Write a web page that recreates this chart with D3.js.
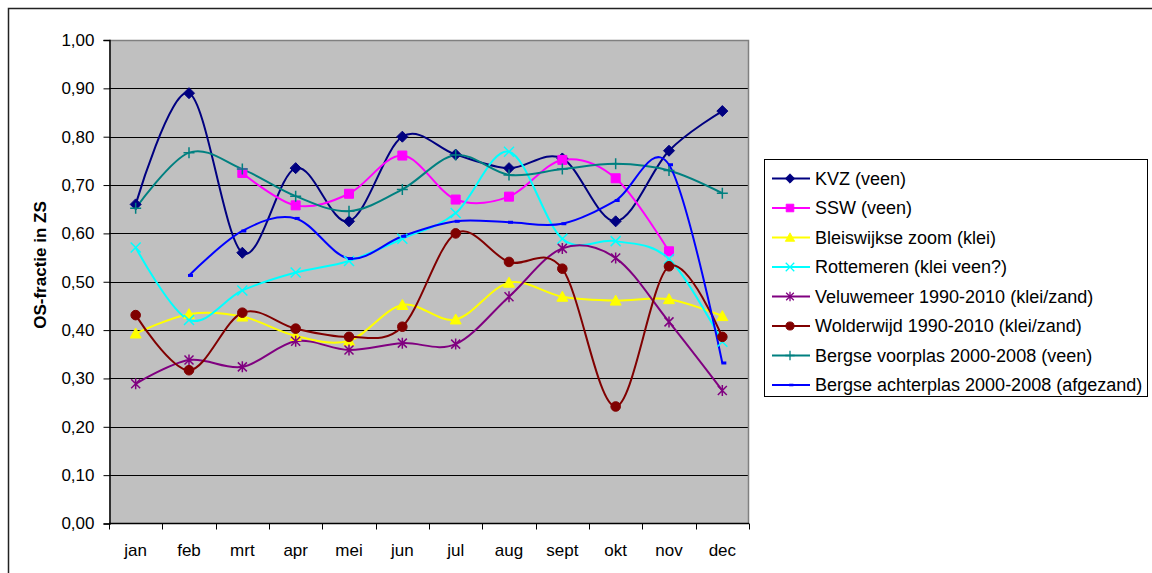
<!DOCTYPE html>
<html>
<head>
<meta charset="utf-8">
<script src="https://cdn.jsdelivr.net/npm/d3@7/dist/d3.min.js"></script>
<style>
  body { margin: 0; background: #fff; }
  svg { display: block; font-family: "Liberation Sans", Arial, sans-serif; }
</style>
</head>
<body>
<div class="chart-container"></div>
<script>
// months on the x axis
const months = ["jan", "feb", "mrt", "apr", "mei", "jun", "jul", "aug", "sept", "okt", "nov", "dec"];
const yTicks = [0, 0.1, 0.2, 0.3, 0.4, 0.5, 0.6, 0.7, 0.8, 0.9, 1.0];

// OS-fractie per month (null = no value)
const kvz = [0.66, 0.89, 0.56, 0.735, 0.625, 0.80, 0.763, 0.735, 0.755, 0.625, 0.771, 0.853];
const ssw = [null, null, 0.725, 0.658, 0.682, 0.761, 0.670, 0.676, 0.752, 0.714, 0.563, null];
const bleiswijk = [0.393, 0.433, 0.428, 0.388, 0.378, 0.452, 0.422, 0.498, 0.469, 0.461, 0.464, 0.429];
const rottemeren = [0.571, 0.421, 0.482, 0.519, 0.543, 0.589, 0.642, 0.769, 0.589, 0.584, 0.547, 0.376];
const veluwemeer = [0.289, 0.338, 0.324, 0.377, 0.359, 0.373, 0.371, 0.469, 0.569, 0.549, 0.417, 0.275];
const wolderwijd = [0.431, 0.317, 0.436, 0.403, 0.386, 0.407, 0.600, 0.541, 0.527, 0.242, 0.532, 0.386];
const voorplas = [0.652, 0.767, 0.733, 0.677, 0.646, 0.691, 0.762, 0.721, 0.733, 0.744, 0.730, 0.683];
const achterplas = [null, 0.513, 0.605, 0.631, 0.548, 0.594, 0.625, 0.623, 0.620, 0.668, 0.742, 0.332];

const names = [
  "KVZ (veen)",
  "SSW (veen)",
  "Bleiswijkse zoom (klei)",
  "Rottemeren (klei veen?)",
  "Veluwemeer 1990-2010 (klei/zand)",
  "Wolderwijd 1990-2010 (klei/zand)",
  "Bergse voorplas 2000-2008 (veen)",
  "Bergse achterplas 2000-2008 (afgezand)"
];
const colors = ["#000080", "#ff00ff", "#ffff00", "#00ffff", "#800080", "#800000", "#008080", "#0000ff"];
const markers = ["diamond", "square", "triangle", "cross", "star", "circle", "plus", "dash"];

const series = [kvz, ssw, bleiswijk, rottemeren, veluwemeer, wolderwijd, voorplas, achterplas]
  .map((values, i) => ({ name: names[i], color: colors[i], marker: markers[i], values }));

// canvas
const w = 1152;
const h = 573;
const plot = { left: 109, right: 749, top: 40, bottom: 523.5 };

const svg = d3.select(".chart-container").append("svg")
  .attr("width", w)
  .attr("height", h);

// outer chart border (runs off the picture to the right and bottom)
svg.append("rect")
  .attr("x", 8.5).attr("y", 8.5)
  .attr("width", 1200).attr("height", 600)
  .attr("fill", "none")
  .attr("stroke", "#222")
  .attr("stroke-width", 1.5);

// scales
const xScale = d3.scaleBand().domain(months).range([plot.left, plot.right]).padding(0);
const xTickScale = d3.scaleLinear().domain([0, 12]).range([plot.left, plot.right]);
const yScale = d3.scaleLinear().domain([0, 1]).range([plot.bottom, plot.top]);
const xc = (i) => xScale(months[i]) + xScale.bandwidth() / 2;

// plot area
svg.append("rect")
  .attr("x", plot.left).attr("y", plot.top)
  .attr("width", plot.right - plot.left).attr("height", plot.bottom - plot.top)
  .attr("fill", "#c0c0c0");

// gridlines
svg.append("g")
  .selectAll("line")
  .data(yTicks.slice(1, -1))
  .enter().append("line")
  .attr("x1", plot.left).attr("x2", plot.right)
  .attr("y1", (d) => Math.round(yScale(d)) + 0.5)
  .attr("y2", (d) => Math.round(yScale(d)) + 0.5)
  .attr("stroke", "#000").attr("stroke-width", 1);

// top and right border of the plot area
svg.append("path")
  .attr("d", `M${plot.left},${plot.top + 0.5}H${plot.right - 0.5}V${plot.bottom}`)
  .attr("fill", "none").attr("stroke", "#808080").attr("stroke-width", 1.5);

// y axis
const yAxis = d3.axisLeft(yScale)
  .tickValues(yTicks)
  .tickSize(6)
  .tickPadding(9)
  .tickFormat((d) => d3.format(".2f")(d).replace(".", ","));

const gy = svg.append("g")
  .attr("transform", "translate(" + (plot.left + 0.5) + ",0)")
  .call(yAxis);
gy.select(".domain").attr("stroke", "#000").attr("stroke-width", 1.5);
gy.selectAll(".tick line").attr("stroke", "#000");
gy.selectAll("text").attr("font-size", 17).attr("fill", "#000")
  .attr("font-family", "Liberation Sans, Arial, sans-serif");

// x axis: labels centred in each category, ticks between categories
const xAxis = d3.axisBottom(xScale).tickSize(0).tickPadding(20);
const gx = svg.append("g")
  .attr("transform", "translate(0," + plot.bottom + ")")
  .call(xAxis);
gx.select(".domain").remove();
gx.selectAll("text").attr("font-size", 17).attr("fill", "#000")
  .attr("font-family", "Liberation Sans, Arial, sans-serif");

svg.append("line")
  .attr("x1", plot.left).attr("x2", plot.right)
  .attr("y1", plot.bottom).attr("y2", plot.bottom)
  .attr("stroke", "#000").attr("stroke-width", 1.5);

svg.append("g")
  .selectAll("line")
  .data(d3.range(13))
  .enter().append("line")
  .attr("x1", (d) => Math.round(xTickScale(d)) + 0.5)
  .attr("x2", (d) => Math.round(xTickScale(d)) + 0.5)
  .attr("y1", plot.bottom).attr("y2", plot.bottom + 6)
  .attr("stroke", "#000");

// y axis title
svg.append("text")
  .attr("transform", "translate(46,265) rotate(-90)")
  .attr("text-anchor", "middle")
  .attr("font-size", 17)
  .attr("font-weight", "bold")
  .text("OS-fractie in ZS");

// marker shapes
function markerPath(type) {
  switch (type) {
    case "diamond": return "M0,-5.5L5.5,0L0,5.5L-5.5,0Z";
    case "square": return "M-4.5,-4.5H4.5V4.5H-4.5Z";
    case "triangle": return "M0,-5.5L5.5,4.5H-5.5Z";
    case "cross": return "M-5,-5L5,5M5,-5L-5,5";
    case "star": return "M-4.5,-4.5L4.5,4.5M4.5,-4.5L-4.5,4.5M0,-5.5V5.5";
    case "plus": return "M-5.5,0H5.5M0,-5.5V5.5";
    case "circle": return "M4.8,0A4.8,4.8 0 1,1 -4.8,0A4.8,4.8 0 1,1 4.8,0Z";
    case "dash": return "M-1,-1.5H4V1.5H-1Z";
  }
}
const openMarker = (t) => t === "cross" || t === "star" || t === "plus";

function drawMarker(g, type, color) {
  g.append("path")
    .attr("d", markerPath(type))
    .attr("fill", openMarker(type) ? "none" : color)
    .attr("stroke", color)
    .attr("stroke-width", openMarker(type) ? 1.5 : (type === "dash" ? 0 : 1));
}

// smoothed lines
const line = d3.line()
  .defined((d) => d.v !== null)
  .x((d) => xc(d.i))
  .y((d) => yScale(d.v))
  .curve(d3.curveCardinal.tension(0));

const lines = svg.append("g");
series.forEach((s) => {
  const pts = s.values.map((v, i) => ({ v, i }));
  lines.append("path")
    .datum(pts)
    .attr("d", line)
    .attr("fill", "none")
    .attr("stroke", s.color)
    .attr("stroke-width", 2);
});

// markers
series.forEach((s) => {
  s.values.forEach((v, i) => {
    if (v === null) return;
    const g = svg.append("g")
      .attr("transform", "translate(" + xc(i) + "," + yScale(v) + ")");
    drawMarker(g, s.marker, s.color);
  });
});

// legend
const legend = svg.append("g");
legend.append("rect")
  .attr("x", 764.5).attr("y", 159.5)
  .attr("width", 383).attr("height", 237)
  .attr("fill", "#fff").attr("stroke", "#000").attr("stroke-width", 1);

series.forEach((s, i) => {
  const y = 178.5 + i * 29.5;
  legend.append("line")
    .attr("x1", 772).attr("x2", 810)
    .attr("y1", y).attr("y2", y)
    .attr("stroke", s.color).attr("stroke-width", 2);
  const g = legend.append("g").attr("transform", "translate(790," + y + ") scale(0.85)");
  drawMarker(g, s.marker, s.color);
  legend.append("text")
    .attr("x", 815).attr("y", y + 6)
    .attr("font-size", 18)
    .text(s.name);
});
</script>
</body>
</html>
